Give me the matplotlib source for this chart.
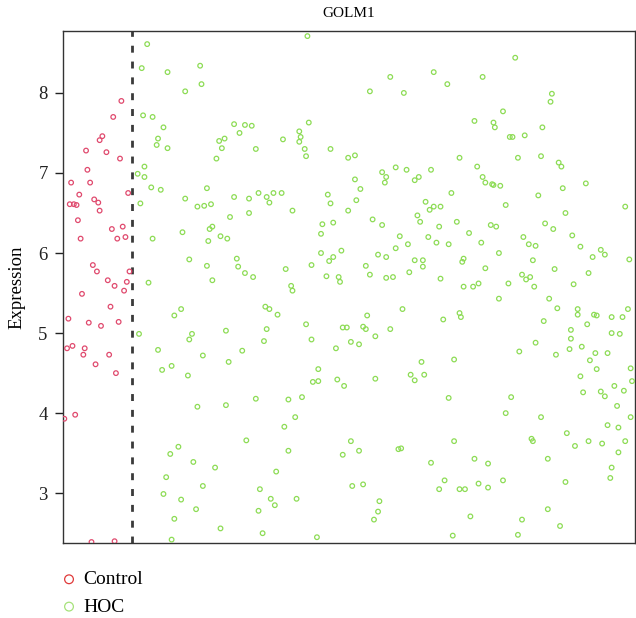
import matplotlib
matplotlib.use('Agg')
import matplotlib.pyplot as plt

plt.rcParams['font.family'] = ['Liberation Serif', 'DejaVu Serif']

# próbki kontrolne (indeks próbki, ekspresja)
ctrl_idx = [43, 37, 29, 27, 17, 32, 42, 18, 6, 20, 12, 5, 8, 10, 23, 26, 27,
            11, 36, 44, 13, 40, 46, 48, 22, 25, 33, 38, 49, 47, 45, 14, 35, 4,
            19, 28, 41, 3, 7, 16, 15, 34, 24, 39, 9, 1, 21, 38]
ctrl_expr = [7.90, 7.70, 7.46, 7.41, 7.28, 7.26, 7.18, 7.04, 6.88, 6.88, 6.73,
             6.61, 6.61, 6.60, 6.67, 6.63, 6.53, 6.41, 6.30, 6.33, 6.18, 6.18,
             6.20, 6.75, 5.85, 5.77, 5.66, 5.59, 5.77, 5.64, 5.53, 5.49, 5.33,
             5.18, 5.13, 5.09, 5.14, 4.81, 4.84, 4.81, 4.73, 4.73, 4.61, 4.50,
             3.98, 3.93, 2.39, 2.40]

# próbki HOC
hoc_idx = [
    62, 180, 58, 77, 101, 90, 102, 226, 59, 66, 74, 70, 69, 77, 126, 134, 139,
    130, 181, 115, 119, 117, 113, 142, 162, 174, 175, 174, 178, 179, 197, 210,
    215, 60, 55, 60, 65, 72, 57, 106, 90, 99, 104, 109, 126, 137, 144, 150, 155,
    161, 152, 169, 195, 197, 216, 219, 215, 210, 235, 238, 237, 123, 137, 88,
    110, 108, 116, 121, 107, 66, 191, 199, 190, 228, 235, 93, 106, 128, 129,
    134, 140, 110, 63, 164, 168, 183, 190, 196, 199, 205, 194, 203, 204, 223,
    226, 232, 238, 238,
    333, 241, 273, 309, 283, 251, 360, 359, 324, 303, 317, 318, 329, 331, 340,
    353, 292, 335, 352, 305, 365, 367, 385, 368, 245, 253,
    259, 262, 271, 309, 311, 316, 317, 322, 286, 326, 350, 414, 267, 270, 273,
    278, 261, 263, 277, 290, 315, 319, 370, 355, 361, 375,
    248, 245, 254, 269, 275, 284, 299, 308, 339, 343, 348, 381, 390, 396, 399,
    417,
    259, 265, 265, 295, 294, 311, 321, 346, 362, 387,
    243, 255, 278, 295, 302, 306, 328, 338, 341, 344, 347, 376,
    169, 149, 152, 158, 87, 82, 224, 179, 150, 206, 209, 221, 223, 230,
    56, 95, 93, 120, 148, 183, 212, 218, 201, 70, 103, 132, 122, 80, 73, 92,
    188, 184, 188, 202, 207, 230, 142, 166, 176, 99, 120, 171, 163, 135, 166,
    212, 206, 218, 85, 79, 96, 112, 157, 76, 103, 74, 145, 87, 153, 156, 172,
    213, 221, 233, 232, 229, 98, 144, 82, 116, 147, 80, 187,
    321, 358, 250, 280, 292, 293, 241, 364, 379, 379, 391, 393, 404, 412, 416,
    354, 386, 374, 374, 404, 410, 348, 336, 363, 373, 382, 392, 401, 388, 264,
    288, 256, 259, 266, 393, 418, 381, 383, 396, 399, 406, 413, 419, 284, 330,
    408, 326, 352, 418, 401, 409, 371, 377, 387, 397, 414, 409, 345, 346, 288,
    247, 249, 271, 303, 313, 357, 404, 403, 281, 324, 370, 277, 292, 296, 306,
    313, 357, 300, 338, 366, 287, 335]
hoc_expr = [
    8.61, 8.71, 8.31, 8.26, 8.34, 8.02, 8.11, 8.02, 7.72, 7.70, 7.57, 7.43,
    7.35, 7.31, 7.61, 7.60, 7.59, 7.50, 7.63, 7.40, 7.43, 7.31, 7.18, 7.30,
    7.42, 7.52, 7.45, 7.39, 7.30, 7.21, 7.30, 7.19, 7.22, 7.08, 6.99, 6.95,
    6.82, 6.79, 6.62, 6.81, 6.68, 6.58, 6.59, 6.61, 6.70, 6.68, 6.75, 6.70,
    6.75, 6.75, 6.63, 6.53, 6.73, 6.62, 6.66, 6.80, 6.92, 6.53, 7.01, 6.95,
    6.88, 6.45, 6.50, 6.26, 6.33, 6.30, 6.21, 6.18, 6.15, 6.18, 6.36, 6.38,
    6.24, 6.42, 6.35, 5.92, 5.84, 5.93, 5.83, 5.75, 5.70, 5.66, 5.63, 5.80,
    5.59, 5.85, 6.00, 5.90, 5.95, 6.03, 5.71, 5.70, 5.64, 5.84, 5.73, 5.98,
    5.95, 5.69,
    8.44, 8.20, 8.26, 8.20, 8.11, 8.00, 7.99, 7.89, 7.77, 7.65, 7.63, 7.57,
    7.45, 7.45, 7.47, 7.57, 7.19, 7.19, 7.21, 7.08, 7.13, 7.08, 6.87, 6.81,
    7.07, 7.04,
    6.91, 6.95, 7.04, 6.95, 6.88, 6.86, 6.85, 6.84, 6.75, 6.60, 6.72, 6.58,
    6.64, 6.54, 6.58, 6.58, 6.47, 6.39, 6.33, 6.39, 6.35, 6.33, 6.50, 6.37,
    6.30, 6.22,
    6.21, 6.06, 6.11, 6.20, 6.13, 6.11, 6.25, 6.13, 6.20, 6.11, 6.09, 6.08,
    5.95, 6.04, 5.98, 5.92,
    5.91, 5.91, 5.83, 5.93, 5.89, 5.81, 6.00, 5.91, 5.80, 5.75,
    5.70, 5.76, 5.68, 5.58, 5.58, 5.62, 5.62, 5.73, 5.67, 5.70, 5.58, 5.61,
    5.53, 5.33, 5.30, 5.23, 5.30, 5.22, 5.22, 5.11, 5.05, 5.07, 5.07, 5.08,
    5.05, 4.96,
    4.99, 4.99, 4.92, 5.03, 4.90, 4.92, 4.89, 4.86, 4.81, 4.79, 4.72, 4.78,
    4.64, 4.59, 4.54, 4.47, 4.55, 4.39, 4.40, 4.42, 4.34, 4.43, 4.18, 4.17,
    4.20, 4.08, 4.10, 3.95, 3.83, 3.66, 3.53, 3.65, 3.48, 3.53, 3.58, 3.49,
    3.39, 3.32, 3.27, 3.20, 3.09, 2.99, 3.05, 2.92, 2.93, 2.85, 2.93, 3.09,
    3.11, 2.90, 2.77, 2.67, 2.80, 2.78, 2.68, 2.56, 2.50, 2.42, 2.45,
    5.43, 5.43, 5.30, 5.17, 5.25, 5.20, 5.05, 5.31, 5.30, 5.23, 5.23, 5.22,
    5.20, 5.20, 5.30, 5.15, 5.11, 5.04, 4.93, 5.00, 4.99, 4.88, 4.77, 4.73,
    4.80, 4.83, 4.75, 4.75, 4.66, 4.64, 4.67, 4.48, 4.41, 4.48, 4.55, 4.56,
    4.46, 4.26, 4.27, 4.21, 4.34, 4.28, 4.40, 4.19, 4.20, 4.09, 4.00, 3.95,
    3.95, 3.85, 3.82, 3.75, 3.59, 3.65, 3.62, 3.65, 3.51, 3.68, 3.65, 3.65,
    3.55, 3.56, 3.38, 3.43, 3.37, 3.43, 3.32, 3.19, 3.16, 3.16, 3.14, 3.05,
    3.05, 3.05, 3.12, 3.07, 2.80, 2.71, 2.67, 2.59, 2.47, 2.48]

n_ctrl = 50.7  # granica miedzy grupami
y_ticks = [3, 4, 5, 6, 7, 8]

fig = plt.figure(figsize=(6.36, 6.18), dpi=100)
ax = fig.add_axes([0.099, 0.121, 0.899, 0.829])

ax.scatter(ctrl_idx, ctrl_expr, s=11, facecolors='none', edgecolors='#e04a6e',
           linewidths=0.9, label='Control', zorder=3)
ax.scatter(hoc_idx, hoc_expr, s=11, facecolors='none', edgecolors='#8ddc55',
           linewidths=0.9, label='HOC', zorder=3)
ax.axvline(n_ctrl, color='#3a3a3a', ls=(0, (2.5, 3.2)), lw=2.0, zorder=2)

ax.set_xlim(0, 421)
ax.set_ylim(2.375, 8.775)
ax.set_xticks([])
ax.set_yticks(y_ticks)
ax.tick_params(axis='y', labelsize=13.5, length=6, width=1, pad=5,
               colors='#222222')
ax.set_ylabel('Expression', fontsize=13.5, labelpad=9)
ax.set_title('GOLM1', fontsize=11, pad=10)
for s in ax.spines.values():
    s.set_color('#333333')
    s.set_linewidth(1.0)

leg = fig.legend(loc='upper left', bbox_to_anchor=(0.081, 0.089), frameon=False,
                 fontsize=14, markerscale=1.9, handlelength=1.0,
                 handletextpad=0.25, labelspacing=0.5, borderaxespad=0)
leg.legend_handles[0].set_edgecolor('#e03a3a')
leg.legend_handles[1].set_edgecolor('#a6e27a')

fig.savefig('out.png', dpi=100)
